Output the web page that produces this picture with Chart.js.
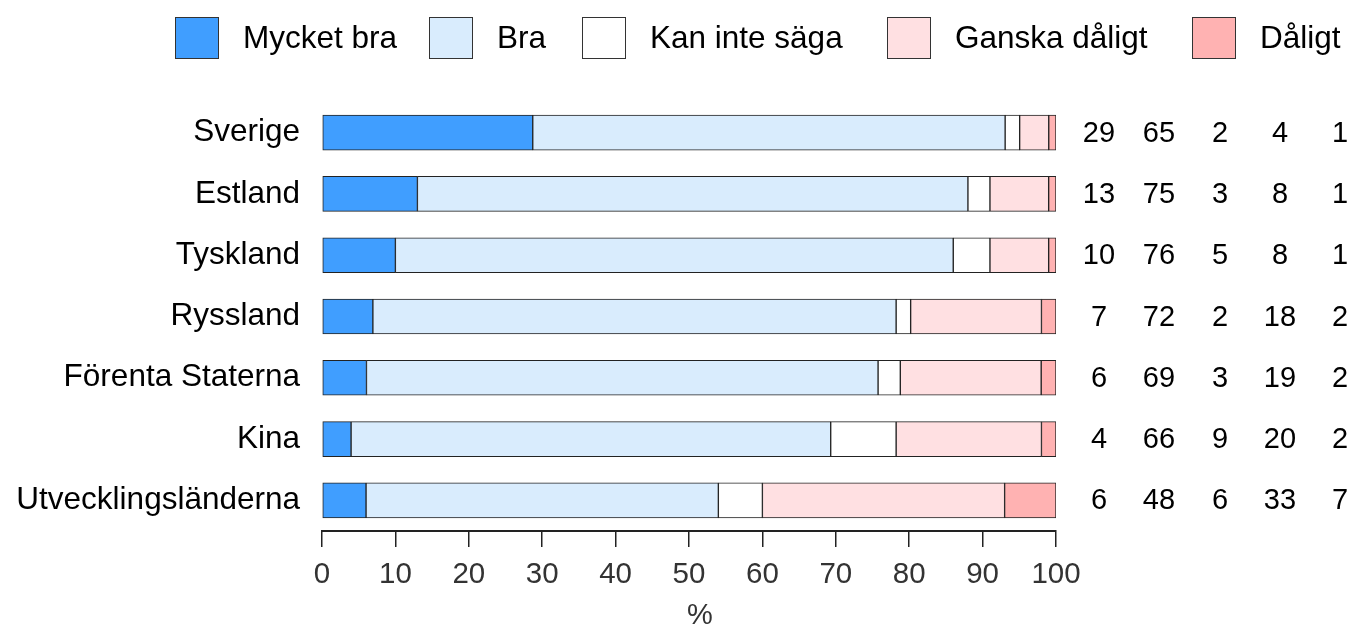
<!DOCTYPE html>
<html>
<head>
<meta charset="utf-8">
<script src="https://cdn.jsdelivr.net/npm/chart.js@4.4.1/dist/chart.umd.min.js"></script>
<style>
  html, body { margin: 0; padding: 0; background: #fff; }
  #wrap { width: 1354px; height: 628px; }
</style>
</head>
<body>
<div id="wrap"><canvas id="chart" width="1354" height="628"></canvas></div>
<script>
const countries = ['Sverige', 'Estland', 'Tyskland', 'Ryssland', 'Förenta Staterna', 'Kina', 'Utvecklingsländerna'];
const seriesNames = ['Mycket bra', 'Bra', 'Kan inte säga', 'Ganska dåligt', 'Dåligt'];

// percent per answer, as printed to the right of each bar
const mycketBra = [29, 13, 10, 7, 6, 4, 6];
const bra = [65, 75, 76, 72, 69, 66, 48];
const kanInteSaga = [2, 3, 5, 2, 3, 9, 6];
const ganskaDaligt = [4, 8, 8, 18, 19, 20, 33];
const daligt = [1, 1, 1, 2, 2, 2, 7];

const xTicks = [0, 10, 20, 30, 40, 50, 60, 70, 80, 90, 100];

const colors = ['#409EFF', '#D9ECFD', '#FFFFFF', '#FFE0E2', '#FFB2B2'];
const FONT = '"Liberation Sans", Arial, sans-serif';

const allSeries = [mycketBra, bra, kanInteSaga, ganskaDaligt, daligt];

// bars are scaled so that every row fills 100 %
const rowTotals = countries.map((c, i) => allSeries.reduce((s, arr) => s + arr[i], 0));

const datasets = seriesNames.map((name, k) => ({
    label: name,
    data: allSeries[k].map((v, i) => v / rowTotals[i] * 100),
    backgroundColor: colors[k],
    borderColor: '#222',
    borderWidth: 1,
    borderSkipped: false,
    barThickness: 35,
}));

// legend + numbers to the right + axis title
const legendBoxX = [175, 429, 582, 887, 1192];
const numberColX = [1099, 1159, 1220, 1280, 1340];

const extrasPlugin = {
    id: 'extras',
    afterDraw(chart) {
        const ctx = chart.ctx;
        ctx.save();

        // legend
        ctx.font = '31.5px ' + FONT;
        ctx.textBaseline = 'middle';
        ctx.textAlign = 'left';
        seriesNames.forEach((name, k) => {
            const bx = legendBoxX[k];
            ctx.fillStyle = colors[k];
            ctx.fillRect(bx, 17, 43, 41);
            ctx.strokeStyle = '#333';
            ctx.lineWidth = 1;
            ctx.strokeRect(bx + 0.5, 17.5, 43, 41);
            ctx.fillStyle = '#000';
            ctx.fillText(name, bx + 68, 39);
        });

        // printed values
        const yScale = chart.scales.y;
        ctx.font = '29px ' + FONT;
        ctx.textAlign = 'center';
        ctx.fillStyle = '#000';
        countries.forEach((c, i) => {
            const y = yScale.getPixelForValue(i);
            allSeries.forEach((arr, k) => {
                ctx.fillText(String(arr[i]), numberColX[k], y + 1);
            });
        });

        // x axis title
        ctx.font = '29px ' + FONT;
        ctx.fillStyle = '#333';
        ctx.fillText('%', 700, 616);

        ctx.restore();
    }
};

new Chart(document.getElementById('chart').getContext('2d'), {
    type: 'bar',
    data: {
        labels: countries,
        datasets: datasets
    },
    options: {
        indexAxis: 'y',
        responsive: false,
        animation: false,
        layout: {
            padding: { top: 102, right: 298, bottom: 0, left: 0 }
        },
        plugins: {
            legend: { display: false },
            tooltip: { enabled: false }
        },
        scales: {
            x: {
                stacked: true,
                min: 0,
                max: 100,
                afterBuildTicks: (scale) => {
                    scale.ticks = xTicks.map(v => ({ value: v }));
                },
                afterFit: (scale) => { scale.height = 97; },
                grid: {
                    drawOnChartArea: false,
                    drawTicks: true,
                    tickLength: 16,
                    color: '#222',
                    lineWidth: 1.5
                },
                border: { display: true, color: '#222', width: 2 },
                ticks: {
                    color: '#333',
                    padding: 10,
                    maxRotation: 0,
                    font: { family: FONT, size: 29.5 }
                }
            },
            y: {
                stacked: true,
                afterFit: (scale) => { scale.width = 322; },
                grid: { display: false, drawTicks: false },
                border: { display: false },
                ticks: {
                    color: '#000',
                    padding: 22,
                    font: { family: FONT, size: 31.5 }
                }
            }
        }
    },
    plugins: [extrasPlugin]
});
</script>
</body>
</html>
